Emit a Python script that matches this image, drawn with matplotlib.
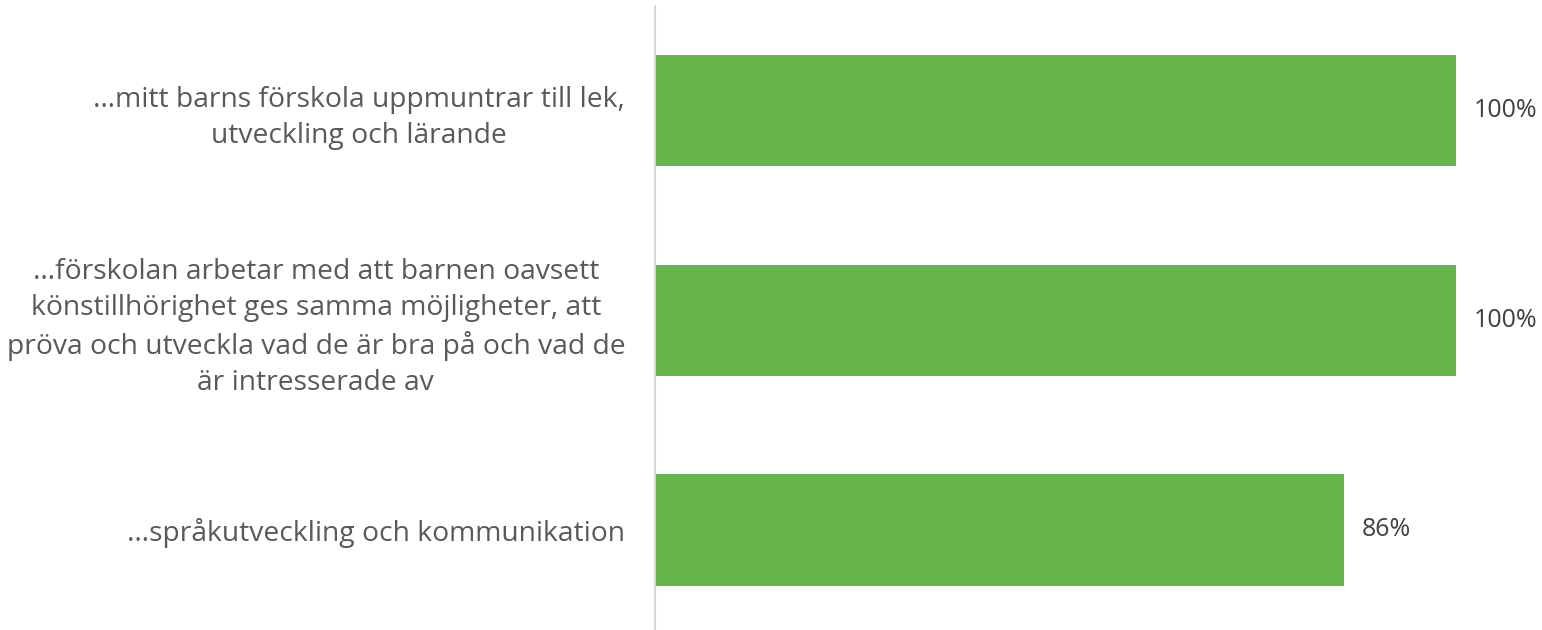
import matplotlib.pyplot as plt
import numpy as np

# data
categories = [
    "…mitt barns förskola uppmuntrar till lek,\nutveckling och lärande",
    "…förskolan arbetar med att barnen oavsett\nkönstillhörighet ges samma möjligheter, att\npröva och utveckla vad de är bra på och vad de\när intresserade av",
    "…språkutveckling och kommunikation",
]
values = [1.00, 1.00, 0.86]
value_labels = ["100%", "100%", "86%"]

bar_color = "#65b44c"
label_color = "#595959"
value_color = "#404040"

fig = plt.figure(figsize=(15.42, 6.3), dpi=100)
ax = fig.add_axes([655 / 1542, 0.0, 1 - 655 / 1542, 1 - 6 / 630])

y = np.arange(len(categories))
ax.barh(y, values, height=0.53, color=bar_color)

ax.set_xlim(0, 887 / 801)
ax.set_ylim(2.477, -0.498)

ax.set_yticks(y)
ax.set_yticklabels(categories, fontsize=20.3, color=label_color,
                   family="Open Sans", linespacing=1.38)
for t in ax.get_yticklabels():
    t.set_multialignment("center")
ax.tick_params(axis="y", length=0, pad=21.5)
ax.set_xticks([])

for s in ["top", "right", "bottom"]:
    ax.spines[s].set_visible(False)
ax.spines["left"].set_color("#d9d9d9")
ax.spines["left"].set_linewidth(1.5)

for yi, v, lab in zip(y, values, value_labels):
    ax.annotate(lab, (v, yi), xytext=(13, 0), textcoords="offset points",
                va="center", ha="left", fontsize=18, color=value_color,
                family="Open Sans")

fig.savefig("out.png", dpi=100)
